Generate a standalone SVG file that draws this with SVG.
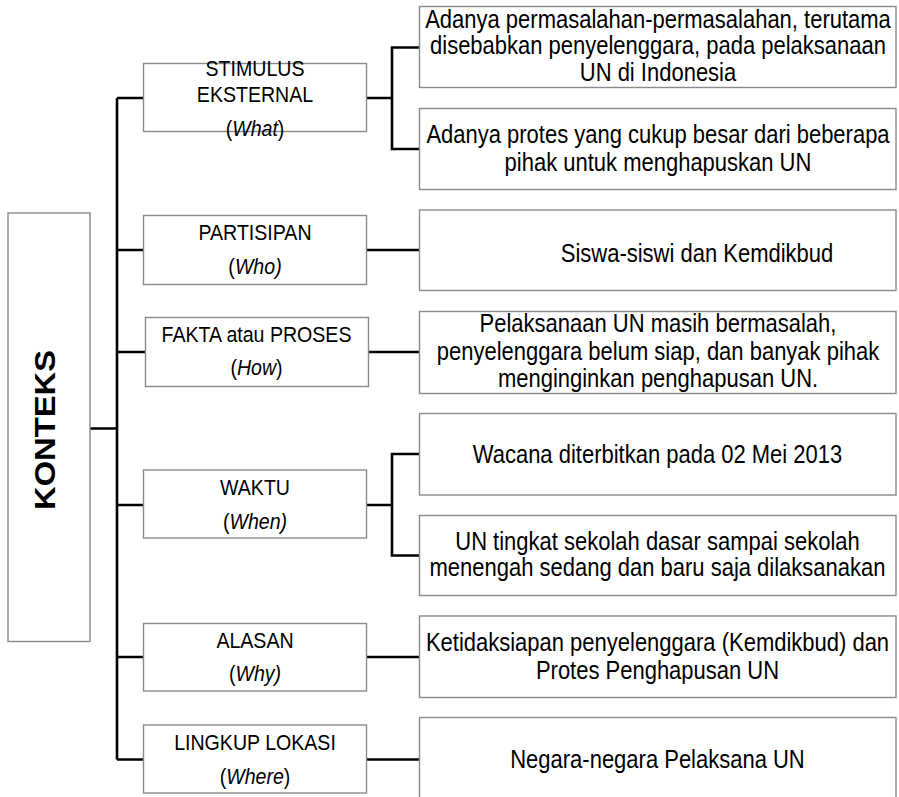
<svg xmlns="http://www.w3.org/2000/svg" width="899" height="797" viewBox="0 0 899 797">
<style>
.box{fill:#fff;stroke:#8a8a8a;stroke-width:1.4}
.con{fill:none;stroke:#000;stroke-width:2.6}
.l{font-family:"Liberation Sans",Arial,sans-serif;font-size:22.5px;fill:#000;text-anchor:middle}
.r{font-family:"Liberation Sans",Arial,sans-serif;font-size:25px;fill:#000;text-anchor:middle}
.i{font-style:italic}
.k{font-family:"Liberation Sans",Arial,sans-serif;font-size:30px;font-weight:bold;fill:#000;text-anchor:middle}
</style>
<rect width="899" height="797" fill="#fff"/>
<g id="connectors">
<path class="con" d="M90 428.5H117M117 98V759.5"/>
<path class="con" d="M117 98H143.5M117 250H143.5M117 352H145.5M117 505H143.5M117 657H143.5M117 759.5H143.5"/>
<path class="con" d="M366.5 98H392M419.5 47.5H392V149H419.5"/>
<path class="con" d="M366.5 250H419.5M368.5 352H419.5"/>
<path class="con" d="M366.5 505H392M419.5 454H392V555.5H419.5"/>
<path class="con" d="M366.5 657H419.5M366.5 759.5H419.5"/>
</g>
<g id="konteks">
<rect class="box" x="8" y="213" width="82" height="428.5"/>
<text class="k" transform="translate(54.5 430) rotate(-90)" textLength="160" lengthAdjust="spacingAndGlyphs">KONTEKS</text>
</g>
<g id="stimulus">
<rect class="box" x="143.5" y="63.5" width="223" height="68"/>
<text class="l" transform="matrix(0.87 0 0 1 255 0)" y="76">STIMULUS</text>
<text class="l" transform="matrix(0.87 0 0 1 255 0)" y="102.5">EKSTERNAL</text>
<text class="l" transform="matrix(0.87 0 0 1 255 0)" y="136.5">(<tspan class="i">What</tspan>)</text>
</g>
<g id="partisipan">
<rect class="box" x="143.5" y="215.5" width="223" height="69"/>
<text class="l" transform="matrix(0.87 0 0 1 255 0)" y="240">PARTISIPAN</text>
<text class="l" transform="matrix(0.87 0 0 1 255 0)" y="274">(<tspan class="i">Who)</tspan></text>
</g>
<g id="fakta">
<rect class="box" x="145.5" y="317.5" width="223" height="69"/>
<text class="l" transform="matrix(0.87 0 0 1 256.5 0)" y="342.5">FAKTA atau PROSES</text>
<text class="l" transform="matrix(0.87 0 0 1 256.5 0)" y="375.5">(<tspan class="i">How</tspan>)</text>
</g>
<g id="waktu">
<rect class="box" x="143.5" y="470" width="223" height="68"/>
<text class="l" transform="matrix(0.87 0 0 1 255 0)" y="495">WAKTU</text>
<text class="l" transform="matrix(0.87 0 0 1 255 0)" y="529">(<tspan class="i">When)</tspan></text>
</g>
<g id="alasan">
<rect class="box" x="143.5" y="623.5" width="223" height="67.5"/>
<text class="l" transform="matrix(0.87 0 0 1 255 0)" y="648">ALASAN</text>
<text class="l" transform="matrix(0.87 0 0 1 255 0)" y="681.5">(<tspan class="i">Why)</tspan></text>
</g>
<g id="lingkup">
<rect class="box" x="143.5" y="725" width="223" height="68"/>
<text class="l" transform="matrix(0.87 0 0 1 255 0)" y="750.5">LINGKUP LOKASI</text>
<text class="l" transform="matrix(0.87 0 0 1 255 0)" y="784">(<tspan class="i">Where</tspan>)</text>
</g>
<g id="r1">
<rect class="box" x="419.5" y="6.5" width="476.5" height="81"/>
<text class="r" transform="matrix(0.88 0 0 1 658 0)" y="28">Adanya permasalahan-permasalahan, terutama</text>
<text class="r" transform="matrix(0.88 0 0 1 658 0)" y="54.5">disebabkan penyelenggara, pada pelaksanaan</text>
<text class="r" transform="matrix(0.88 0 0 1 658 0)" y="81">UN di Indonesia</text>
</g>
<g id="r2">
<rect class="box" x="419.5" y="108.5" width="476.5" height="81"/>
<text class="r" transform="matrix(0.88 0 0 1 658 0)" y="143.5">Adanya protes yang cukup besar dari beberapa</text>
<text class="r" transform="matrix(0.88 0 0 1 658 0)" y="171">pihak untuk menghapuskan UN</text>
</g>
<g id="r3">
<rect class="box" x="419.5" y="210" width="476.5" height="80.5"/>
<text class="r" transform="matrix(0.88 0 0 1 697 0)" y="262">Siswa-siswi dan Kemdikbud</text>
</g>
<g id="r4">
<rect class="box" x="419.5" y="311.5" width="476.5" height="82"/>
<text class="r" transform="matrix(0.88 0 0 1 658 0)" y="332.5">Pelaksanaan UN masih bermasalah,</text>
<text class="r" transform="matrix(0.88 0 0 1 658 0)" y="360">penyelenggara belum siap, dan banyak pihak</text>
<text class="r" transform="matrix(0.88 0 0 1 658 0)" y="387.5">menginginkan penghapusan UN.</text>
</g>
<g id="r5">
<rect class="box" x="419.5" y="413.5" width="476.5" height="81.5"/>
<text class="r" transform="matrix(0.88 0 0 1 657.5 0)" y="463">Wacana diterbitkan pada 02 Mei 2013</text>
</g>
<g id="r6">
<rect class="box" x="419.5" y="515.5" width="476.5" height="80"/>
<text class="r" transform="matrix(0.88 0 0 1 657.5 0)" y="550.5">UN tingkat sekolah dasar sampai sekolah</text>
<text class="r" transform="matrix(0.88 0 0 1 657.5 0)" y="576.5">menengah sedang dan baru saja dilaksanakan</text>
</g>
<g id="r7">
<rect class="box" x="419.5" y="616" width="476.5" height="81.5"/>
<text class="r" transform="matrix(0.88 0 0 1 657.5 0)" y="651.5">Ketidaksiapan penyelenggara (Kemdikbud) dan</text>
<text class="r" transform="matrix(0.88 0 0 1 657.5 0)" y="679">Protes Penghapusan UN</text>
</g>
<g id="r8">
<rect class="box" x="419.5" y="717.5" width="476.5" height="85"/>
<text class="r" transform="matrix(0.88 0 0 1 657.5 0)" y="768">Negara-negara Pelaksana UN</text>
</g>
</svg>
